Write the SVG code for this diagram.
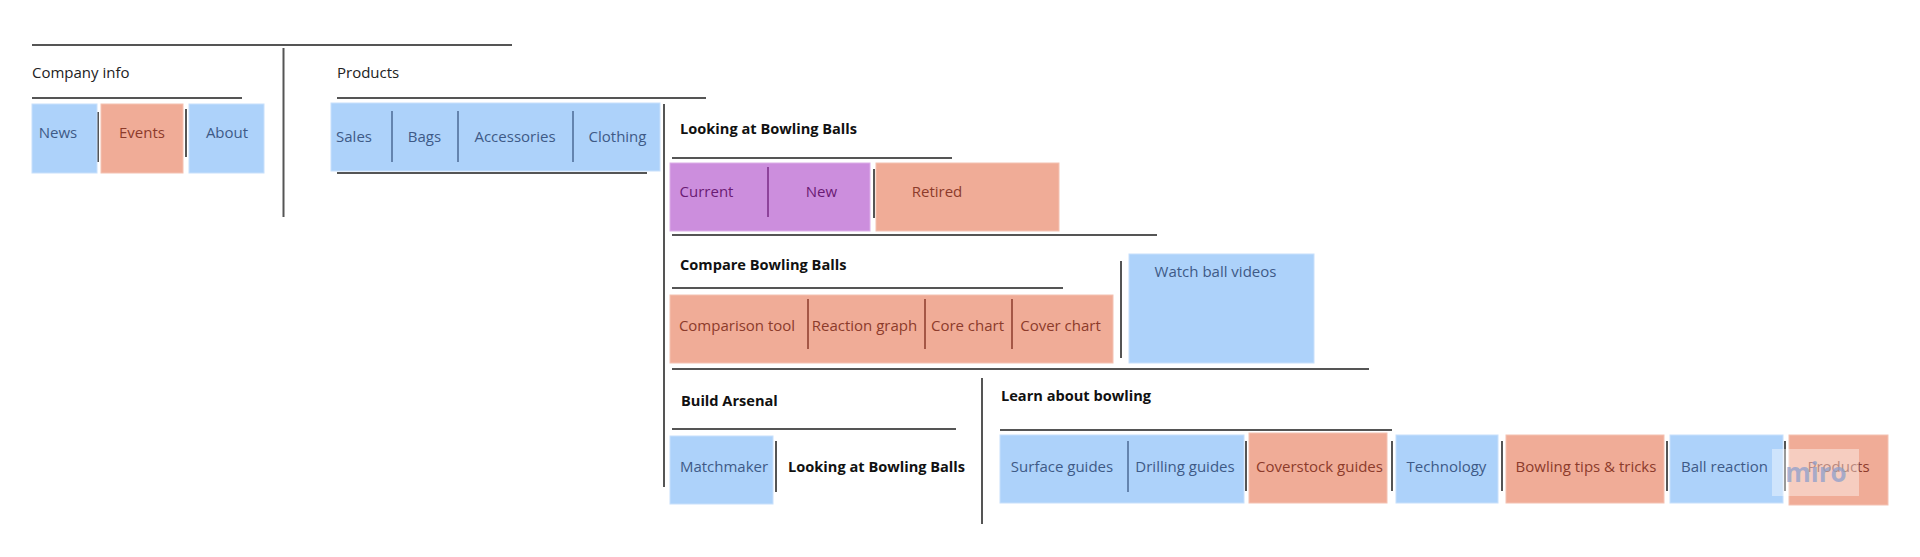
<svg xmlns="http://www.w3.org/2000/svg" width="1920" height="557" viewBox="0 0 1920 557">
<style>
text{font-family:"Open Sans","Noto Sans","Liberation Sans",sans-serif;font-size:15px}
.lbl{fill:#222}
.hd{fill:#111;font-weight:700;font-size:14.6px}
.c{text-anchor:middle}
.blue rect{fill:#add2fa;stroke:#c8e0fb;stroke-width:1}
.blue text{fill:#3e5a87}
.sal rect{fill:#f0ac97;stroke:#f4c2b2;stroke-width:1}
.sal text{fill:#8c3b2b}
.pur rect{fill:#cc8edd;stroke:#dcaee8;stroke-width:1}
.pur text{fill:#6a1b74}
.ln line{stroke:#555;stroke-width:2}
.bd{stroke:#4d6a94;stroke-width:1.5}
.sd{stroke:#8c3b2b;stroke-width:1.5}
.pd{stroke:#7a2a85;stroke-width:1.5}
</style>
<rect width="1920" height="557" fill="#fff"/>
<g id="connectors" class="ln">
<line x1="32" y1="45" x2="512" y2="45"/>
<line x1="283.5" y1="48" x2="283.5" y2="217"/>
<line x1="32" y1="98" x2="242" y2="98"/>
<line x1="337" y1="98" x2="706" y2="98"/>
<line x1="337" y1="173" x2="647" y2="173"/>
<line x1="664" y1="104" x2="664" y2="487"/>
<line x1="672" y1="158" x2="952" y2="158"/>
<line x1="672" y1="235" x2="1157" y2="235"/>
<line x1="672" y1="288" x2="1063" y2="288"/>
<line x1="672" y1="369" x2="1369" y2="369"/>
<line x1="672" y1="429" x2="956" y2="429"/>
<line x1="982" y1="378" x2="982" y2="524"/>
<line x1="1000" y1="430" x2="1392" y2="430"/>
<line x1="98" y1="112" x2="98" y2="162"/>
<line x1="186" y1="109" x2="186" y2="157"/>
<line x1="874" y1="169" x2="874" y2="218"/>
<line x1="1121" y1="261" x2="1121" y2="358"/>
<line x1="776" y1="441" x2="776" y2="492"/>
<line x1="1246" y1="441" x2="1246" y2="491"/>
<line x1="1392" y1="441" x2="1392" y2="491"/>
<line x1="1502" y1="441" x2="1502" y2="491"/>
<line x1="1667" y1="441" x2="1667" y2="491"/>
<line x1="1785" y1="441" x2="1785" y2="491"/>
</g>
<g id="company-info"><text class="lbl" x="32" y="78">Company info</text></g>
<g id="products-title"><text class="lbl" x="337" y="78">Products</text></g>
<g id="news" class="blue"><rect x="32" y="104" width="65" height="69"/><text class="c" x="58" y="138">News</text></g>
<g id="events" class="sal"><rect x="101" y="104" width="82" height="69"/><text class="c" x="142" y="138">Events</text></g>
<g id="about" class="blue"><rect x="189" y="104" width="75" height="69"/><text class="c" x="227" y="138">About</text></g>
<g id="product-cats" class="blue"><rect x="331" y="103" width="329" height="68"/>
<line class="bd" x1="392" y1="111" x2="392" y2="162"/><line class="bd" x1="458" y1="111" x2="458" y2="162"/><line class="bd" x1="573" y1="111" x2="573" y2="162"/>
<text class="c" x="354" y="142">Sales</text><text class="c" x="424.5" y="142">Bags</text><text class="c" x="515" y="142">Accessories</text><text class="c" x="617.5" y="142">Clothing</text></g>
<g id="looking-title"><text class="hd" x="680" y="134">Looking at Bowling Balls</text></g>
<g id="current-new" class="pur"><rect x="670" y="163" width="200" height="68"/>
<line class="pd" x1="768" y1="167" x2="768" y2="217"/>
<text class="c" x="706.5" y="197">Current</text><text class="c" x="821.5" y="197">New</text></g>
<g id="retired" class="sal"><rect x="876" y="163" width="183" height="68"/><text class="c" x="937" y="197">Retired</text></g>
<g id="compare-title"><text class="hd" x="680" y="270">Compare Bowling Balls</text></g>
<g id="compare-tools" class="sal"><rect x="670" y="295" width="443" height="68"/>
<line class="sd" x1="808" y1="299" x2="808" y2="349"/><line class="sd" x1="925" y1="299" x2="925" y2="349"/><line class="sd" x1="1012" y1="299" x2="1012" y2="349"/>
<text class="c" x="737" y="331">Comparison tool</text><text class="c" x="864.5" y="331">Reaction graph</text><text class="c" x="967.5" y="331">Core chart</text><text class="c" x="1060.5" y="331">Cover chart</text></g>
<g id="watch-videos" class="blue"><rect x="1129" y="254" width="185" height="109"/><text class="c" x="1215.5" y="277">Watch ball videos</text></g>
<g id="build-title"><text class="hd" x="681" y="406">Build Arsenal</text></g>
<g id="matchmaker" class="blue"><rect x="670" y="436" width="103" height="68"/><text class="c" x="724" y="472">Matchmaker</text></g>
<g id="looking-link"><text class="hd" x="788" y="472">Looking at Bowling Balls</text></g>
<g id="learn-title"><text class="hd" x="1001" y="401">Learn about bowling</text></g>
<g id="guides" class="blue"><rect x="1000" y="435" width="244" height="68"/>
<line class="bd" x1="1128" y1="441" x2="1128" y2="492"/>
<text class="c" x="1062" y="472">Surface guides</text><text class="c" x="1185" y="472">Drilling guides</text></g>
<g id="coverstock" class="sal"><rect x="1249" y="433" width="138" height="70"/><text class="c" x="1319.5" y="472">Coverstock guides</text></g>
<g id="technology" class="blue"><rect x="1396" y="435" width="102" height="68"/><text class="c" x="1446.5" y="472">Technology</text></g>
<g id="tips" class="sal"><rect x="1506" y="435" width="158" height="68"/><text class="c" x="1586" y="472">Bowling tips &amp; tricks</text></g>
<g id="ball-reaction" class="blue"><rect x="1670" y="435" width="113" height="68"/><text class="c" x="1724.5" y="472">Ball reaction</text></g>
<g id="products-link" class="sal"><rect x="1789" y="435" width="99" height="70"/><text class="c" x="1838.5" y="472">Products</text></g>
<g id="watermark"><rect x="1772" y="449" width="87" height="47" fill="#fff" fill-opacity="0.4"/><text x="1816" y="482" text-anchor="middle" style="font-size:26px;font-weight:700;fill:#8e9fcb;fill-opacity:0.75">miro</text></g>
</svg>
